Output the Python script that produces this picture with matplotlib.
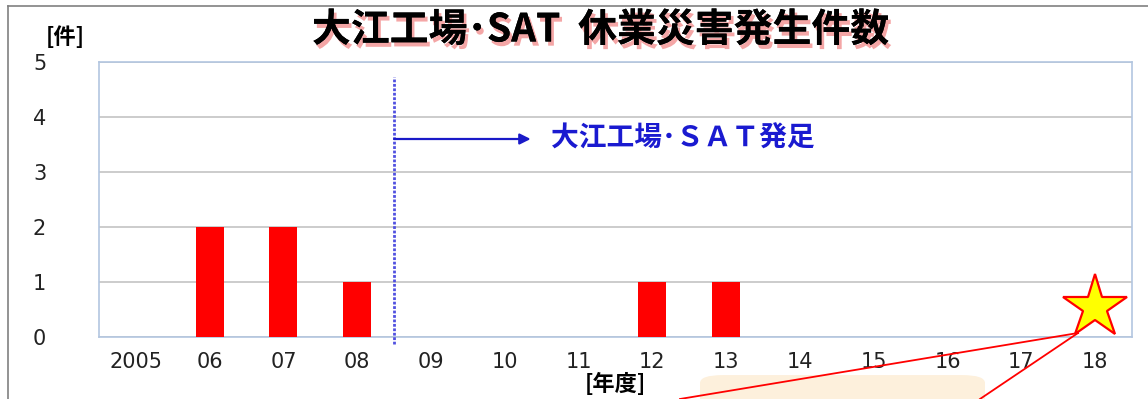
import matplotlib
matplotlib.use('Agg')
import matplotlib.pyplot as plt
import matplotlib.patheffects as pe
from matplotlib.lines import Line2D
from matplotlib.patches import FancyBboxPatch

plt.rcParams['font.family'] = ['Noto Sans CJK JP', 'DejaVu Sans']

# 年度ごとの休業災害件数
years = ['2005', '06', '07', '08', '09', '10', '11', '12', '13', '14', '15', '16', '17', '18']
accidents = [0, 2, 2, 1, 0, 0, 0, 1, 1, 0, 0, 0, 0, 0]
y_ticks = [0, 1, 2, 3, 4, 5]
sat_start = '09'   # 大江工場・SAT 発足年度
star_year = '18'

title = '大江工場･SAT  休業災害発生件数'
sat_label = '大江工場･ＳＡＴ発足'

W, H = 1148, 399
fig = plt.figure(figsize=(W / 100, H / 100), dpi=100)
ax = fig.add_axes([99 / W, 1 - 337 / H, (1132 - 99) / W, (337 - 62) / H])

x = list(range(len(years)))
ax.bar(x, accidents, width=0.38, color='#ff0000', zorder=3)

ax.set_xlim(-0.5, len(years) - 0.5)
ax.set_ylim(0, 5)
ax.set_yticks(y_ticks)
ax.set_yticklabels([str(v) for v in y_ticks], family='DejaVu Sans', fontsize=15, color='#222222')
ax.set_xticks(x)
ax.set_xticklabels(years, family='DejaVu Sans', fontsize=15, color='#222222')
ax.tick_params(axis='y', length=0, pad=38)
ax.tick_params(axis='x', length=0, pad=11)
ax.grid(axis='y', color='#c4c4c4', linewidth=1.2, zorder=0)
for sp in ax.spines.values():
    sp.set_color('#b3c6e0')
    sp.set_linewidth(1.2)

# 発足ライン
xs = years.index(sat_start) - 0.5
ax.vlines(xs, -0.12, 4.72, colors='#5050e0', linestyles=(0, (1, 0.6)), linewidth=2.0,
          clip_on=False, zorder=4)
ax.annotate('', xy=(5.35, 3.6), xytext=(xs, 3.6),
            arrowprops=dict(arrowstyle='-|>', color='#1a1ac8', lw=1.6, mutation_scale=16,
                            shrinkA=0, shrinkB=0), zorder=5)
ax.text(5.62, 3.6, sat_label, color='#1a1ad0', fontsize=20, fontweight='bold',
        va='center', ha='left')

# 星マーク
xi = years.index(star_year)
ax.plot([xi], [0.55], marker='*', ms=48, mfc='#ffff00', mec='#ff0000', mew=1.6,
        clip_on=False, zorder=6)

# タイトル
fig.text(0.523, 1 - 30 / H, title, fontsize=28, fontweight='bold', ha='center', va='center',
         color='black',
         path_effects=[pe.withSimplePatchShadow(offset=(2, -3), shadow_rgbFace='#f08080', alpha=0.7),
                       pe.Normal()])
fig.text(65 / W, 1 - 38 / H, '[件]', fontsize=16, fontweight='bold', ha='center', va='center')
fig.text(615 / W, 1 - 384 / H, '[年度]', fontsize=16, fontweight='bold', ha='center', va='center')

# 枠線
fig.add_artist(Line2D([8 / W, 8 / W], [0, 1 - 6 / H], color='#808080', lw=1.2))
fig.add_artist(Line2D([8 / W, 1], [1 - 6 / H, 1 - 6 / H], color='#808080', lw=1.2))

# 下部の吹き出し
fig.add_artist(FancyBboxPatch((700 / W, -0.02), 285 / W, 0.08,
                              boxstyle='round,pad=0,rounding_size=0.02',
                              facecolor='#fdf0dc', edgecolor='none', zorder=0))
fig.add_artist(Line2D([1078 / W, 680 / W], [1 - 333 / H, 0], color='#ff0000', lw=1.3, zorder=7))
fig.add_artist(Line2D([1078 / W, 980 / W], [1 - 333 / H, 0], color='#ff0000', lw=1.3, zorder=7))

fig.savefig('out.png', dpi=100)
